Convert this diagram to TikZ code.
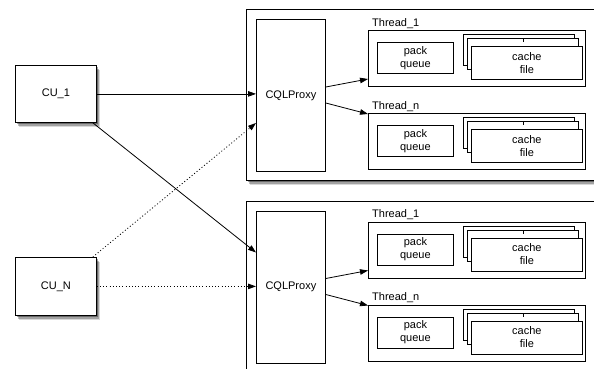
\documentclass[tikz,border=0pt]{standalone}
\usepackage{fontspec}
\setmainfont{Liberation Sans}
\usetikzlibrary{arrows.meta,shadows,calc}
\begin{document}
\begin{tikzpicture}[x=1pt,y=-1pt,
  every node/.style={font=\fontsize{11}{13}\selectfont},
  box/.style={draw, line width=0.8pt, fill=white, inner sep=0pt, anchor=north west, align=center},
  shbox/.style={box,
    drop shadow={shadow xshift=3.5pt, shadow yshift=-4.5pt, opacity=0.15, fill=black},
    drop shadow={shadow xshift=2.5pt, shadow yshift=-3.2pt, opacity=0.25, fill=black},
    drop shadow={shadow xshift=1.5pt, shadow yshift=-2pt, opacity=0.35, fill=black}},
  lbl/.style={anchor=south west, inner sep=1pt},
  conn/.style={line width=0.8pt, -{Triangle[length=8pt,width=5.5pt]}},
  dconn/.style={conn, dash pattern=on 1pt off 2.2pt},
]
\clip (0,0) rectangle (594,369);
\fill[white] (0,0) rectangle (594,369);
\foreach \b/\o in {1/0,2/191.5} {
  \node[shbox, minimum width=360pt, minimum height=171pt] (outer\b) at (246,9+\o) {};
  \node[box, minimum width=69pt, minimum height=152pt] (proxy\b) at (256,19+\o) {CQLProxy};
  \foreach \t/\T in {1/30,n/113} {
    \node[box, minimum width=217pt, minimum height=56pt] (thread\b\t) at (368,\T+\o) {};
    \node[lbl] (label\b\t) at ($(thread\b\t.north west)+(3,-0.5)$) {Thread\_\t};
    \node[box, minimum width=76pt, minimum height=31pt] (pack\b\t) at (377,\T+12+\o) {pack\\queue};
    \node[box, minimum width=111pt, minimum height=31pt] (cacheA\b\t) at (463,\T+4+\o) {};
    \node[box, minimum width=111pt, minimum height=31pt] (cacheB\b\t) at (467,\T+8+\o) {};
    \draw[line width=0.6pt] ($(cacheB\b\t.north)+(0,1)$) -- ($(cacheB\b\t.north)+(0,4)$);
    \node[box, minimum width=111pt, minimum height=33pt] (cacheC\b\t) at (471,\T+16+\o) {cache\\file};
  }
  \draw[conn] ($(proxy\b.north east)+(0,68)$) -- ($(thread\b1.north west)+(0,49)$);
  \draw[conn] ($(proxy\b.north east)+(0,84)$) -- ($(thread\b n.north west)+(0,1)$);
}
\node[shbox, minimum width=81pt, minimum height=57pt] (cu1) at (15,65) {CU\_1};
\node[shbox, minimum width=81pt, minimum height=58pt] (cun) at (15,257) {CU\_N};
\draw[conn] (cu1.east) -- (cu1.east -| proxy1.west);
\draw[conn] ($(cu1.south east)+(-4,0)$) -- ($(proxy2.north west)+(0,42)$);
\draw[dconn] ($(cun.north east)+(-4,0)$) -- ($(proxy1.north west)+(0,104)$);
\draw[dconn] (cun.east) -- (cun.east -| proxy2.west);
\end{tikzpicture}
\end{document}
